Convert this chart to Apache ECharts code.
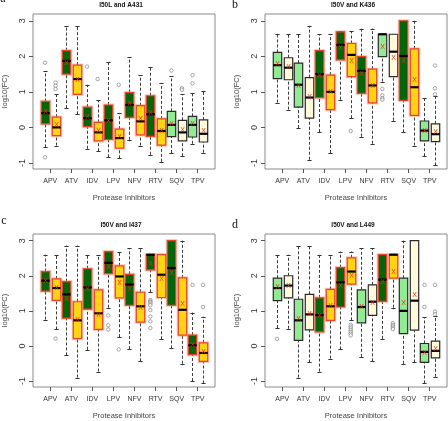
<!DOCTYPE html>
<html>
<head>
<meta charset="utf-8">
<script src="https://cdn.jsdelivr.net/npm/echarts@6/dist/echarts.min.js"></script>
<style>
html,body{margin:0;padding:0;background:#fff;}
#chart{width:448px;height:421px;}
</style>
</head>
<body>
<div id="chart"></div>
<script>
const categories = ['APV','ATV','IDV','LPV','NFV','RTV','SQV','TPV'];
const yTicks = [-1, 0, 1, 2, 3];
const panelTitles = ['I50L and A431','I50V and K436','I50V and I437','I50V and L449'];
const panelLetters = ['a','b','c','d'];

// Panel a
const aLow  = [-0.56,-0.51, 0.54,0.37, -0.60,-0.67, -0.84,-0.87, -0.35,-0.51, -0.77,-0.97, -0.72,-0.81, -0.46,-0.71];
const aQ1   = [0.10,-0.23, 1.50,0.93, 0.02,-0.38, -0.34,-0.58, 0.28,-0.21, -0.25,-0.50, -0.26,-0.38, -0.27,-0.41];
const aMed  = [0.40,0.00, 1.87,1.36, 0.26,-0.14, 0.20,-0.30, 0.63,0.17, 0.37,-0.10, 0.07,-0.14, 0.07,-0.18];
const aQ3   = [0.73,0.29, 2.16,1.75, 0.57,0.14, 0.63,-0.05, 0.98,0.61, 0.89,0.24, 0.45,0.20, 0.31,0.21];
const aHigh = [1.59,0.94, 2.86,2.86, 1.20,0.77, 1.85,0.40, 1.98,1.47, 1.69,1.24, 1.44,0.93, 0.98,1.03];
const aMean = [0.42,0.07, 1.80,1.32, 0.29,-0.09, 0.18,-0.28, 0.65,0.23, 0.40,-0.10, 0.09,-0.07, 0.09,-0.09];
const aOut  = [[1.82,-0.84],[1.26,1.17,1.08],[],[],[1.71],[1.36],[],[1.20],[],[],[],[],[1.60],[1.10,1.06],[1.47,1.24],[]];
const aKind = ['D','Y','D','Y','D','Y','D','Y','D','Y','D','Y','L','C','L','C'];

// Panel b
const bLow  = [0.70,0.50, -0.02,-0.91, -0.13,-0.72, 0.78,0.26, -0.26,-0.46, 1.29,0.19, -0.14,-0.51, -0.81,-1.07];
const bQ1   = [1.37,1.34, 0.57,0.26, 0.84,0.50, 1.90,1.43, 0.96,0.69, 1.99,1.43, 0.76,0.34, -0.38,-0.40];
const bMed  = [1.75,1.68, 1.20,0.84, 1.50,1.00, 2.32,2.04, 1.59,1.18, 2.62,2.13, 2.01,1.13, -0.09,-0.19];
const bQ3   = [2.11,1.96, 1.81,1.40, 2.16,1.47, 2.69,2.36, 1.99,1.64, 2.62,2.62, 3.00,2.21, 0.18,0.10];
const bHigh = [2.62,2.62, 2.62,2.86, 2.62,2.62, 2.71,2.71, 2.78,2.78, 2.62,2.62, 3.00,3.00, 0.84,0.87];
const bMean = [1.78,1.71, 1.17,0.84, 1.45,1.00, 2.23,1.87, 1.50,1.17, 2.27,1.96, 1.88,1.32, -0.09,-0.14];
const bOut  = [[],[],[],[],[],[],[],[-0.10],[],[],[1.08,0.90,0.82,0.78],[],[],[],[],[1.74,1.10,0.93]];
const bKind = ['L','C','L','C','D','Y','D','Y','D','Y','L','C','D','Y','L','C'];

// Panel c
const cLow  = [0.75,0.47, -0.27,-0.90, -0.11,-0.73, 1.09,0.25, -0.09,-0.44, 1.53,0.19, -0.07,-0.51, -1.00,-1.07];
const cQ1   = [1.56,1.30, 0.79,0.21, 1.05,0.47, 2.06,1.37, 1.16,0.68, 2.17,1.38, 1.16,0.31, -0.25,-0.44];
const cMed  = [1.86,1.65, 1.47,0.73, 1.67,0.93, 2.37,1.98, 1.75,1.13, 2.60,2.03, 2.22,1.03, 0.02,-0.20];
const cQ3   = [2.12,1.91, 1.83,1.26, 2.20,1.60, 2.69,2.28, 2.04,1.53, 2.60,2.60, 3.00,1.94, 0.31,0.09];
const cHigh = [2.60,2.60, 2.86,2.86, 2.60,2.60, 2.69,2.69, 2.78,2.78, 2.60,2.60, 3.00,3.00, 0.95,0.83];
const cMean = [1.86,1.65, 1.33,0.73, 1.61,0.87, 2.26,1.80, 1.61,1.09, 2.33,1.90, 2.07,1.19, 0.03,-0.17];
const cOut  = [[],[0.21],[],[],[],[],[0.87,0.59,0.47],[-0.10],[],[],[1.31,1.27,1.24,1.20,1.16,1.02,0.84,0.70,0.51],[],[],[],[1.74],[1.74,1.11]];
const cKind = ['D','Y','D','Y','D','Y','D','Y','D','Y','D','Y','D','Y','D','Y'];

// Panel d
const dLow  = [0.51,0.49, -0.90,-0.47, -0.73,-0.36, -0.10,0.73, -0.31,-0.44, 0.20,1.09, -0.51,-0.47, -1.07,-0.88];
const dQ1   = [1.29,1.37, 0.16,0.46, 0.40,0.73, 1.11,1.76, 0.66,0.87, 1.27,1.93, 0.35,0.45, -0.47,-0.34];
const dMed  = [1.65,1.72, 0.73,0.90, 0.88,1.13, 1.81,2.12, 1.11,1.26, 1.89,2.60, 1.00,1.29, -0.17,-0.14];
const dQ3   = [1.93,2.00, 1.33,1.47, 1.37,1.61, 2.23,2.51, 1.60,1.74, 2.60,2.60, 1.93,3.00, 0.07,0.14];
const dHigh = [2.60,2.60, 2.86,2.86, 2.60,2.60, 2.69,2.69, 2.78,2.78, 2.60,2.60, 3.00,3.00, 0.82,0.84];
const dMean = [1.67,1.71, 0.76,0.90, 0.86,1.13, 1.70,2.00, 1.10,1.23, 1.81,2.11, 1.23,1.46, -0.20,-0.10];
const dOut  = [[0.20],[],[],[],[],[],[],[0.60,0.55,0.50,0.45,0.40,0.35,0.30],[],[],[],[0.65,0.60,0.56,0.52,0.48],[],[],[1.74,1.11],[1.74,0.98,0.90]];
const dKind = ['L','C','L','C','D','Y','D','Y','L','C','D','Y','L','C','L','C'];

const panelData = [
  [aLow,aQ1,aMed,aQ3,aHigh,aMean,aOut,aKind],
  [bLow,bQ1,bMed,bQ3,bHigh,bMean,bOut,bKind],
  [cLow,cQ1,cMed,cQ3,cHigh,cMean,cOut,cKind],
  [dLow,dQ1,dMed,dQ3,dHigh,dMean,dOut,dKind]
];

const kindStyle = {
  D: {fill:'#086408', stroke:'#e2452c', halo:true},
  Y: {fill:'#ffd414', stroke:'#e2452c', halo:true},
  L: {fill:'#92ea92', stroke:'#2a2a2a', halo:false},
  C: {fill:'#fffadc', stroke:'#2a2a2a', halo:false}
};
const kindCodes = ['D','Y','L','C'];

const FONT = 'Liberation Sans, Arial, sans-serif';
const gridPos = [
  {left:33, top:14, width:182, height:155},
  {left:265, top:14, width:182, height:155},
  {left:33, top:234, width:182, height:156},
  {left:265, top:234, width:182, height:156}
];
const tickPos = categories.map((c,i)=>1.5+2*i);

function renderBox(params, api){
  const x = api.value(0);
  const pLow = api.coord([x, api.value(1)]);
  const pQ1 = api.coord([x, api.value(2)]);
  const pMed = api.coord([x, api.value(3)]);
  const pQ3 = api.coord([x, api.value(4)]);
  const pHigh = api.coord([x, api.value(5)]);
  const pMean = api.coord([x, api.value(6)]);
  const ks = kindStyle[kindCodes[api.value(7)]];
  const hw = api.size([0.8, 0])[0]/2;
  const cx = Math.round(pLow[0]) + 0.5;
  const children = [
    {type:'line', shape:{x1:cx,y1:pQ3[1],x2:cx,y2:pHigh[1]}, style:{stroke:'#3a3a3a',lineWidth:1,lineDash:[3,2]}},
    {type:'line', shape:{x1:cx,y1:pLow[1],x2:cx,y2:pQ1[1]}, style:{stroke:'#3a3a3a',lineWidth:1,lineDash:[3,2]}},
    {type:'line', shape:{x1:cx-hw/2,y1:Math.round(pHigh[1])+0.5,x2:cx+hw/2,y2:Math.round(pHigh[1])+0.5}, style:{stroke:'#333',lineWidth:1}},
    {type:'line', shape:{x1:cx-hw/2,y1:Math.round(pLow[1])+0.5,x2:cx+hw/2,y2:Math.round(pLow[1])+0.5}, style:{stroke:'#333',lineWidth:1}}
  ];
  if (ks.halo){
    children.push({type:'rect', shape:{x:cx-hw,y:pQ3[1],width:2*hw,height:pQ1[1]-pQ3[1]}, style:{fill:'none',stroke:'rgba(255,130,110,0.45)',lineWidth:3.2}});
  }
  children.push({type:'rect', shape:{x:cx-hw,y:pQ3[1],width:2*hw,height:pQ1[1]-pQ3[1]}, style:{fill:ks.fill,stroke:ks.stroke,lineWidth:1.2}});
  children.push({type:'line', shape:{x1:cx-hw,y1:pMed[1],x2:cx+hw,y2:pMed[1]}, style:{stroke:'#000',lineWidth:2.2}});
  children.push({type:'text', style:{text:'X', x:cx, y:pMean[1], fill:'#e8321e', font:'7px '+FONT, align:'center', verticalAlign:'middle', textAlign:'center', textVerticalAlign:'middle'}});
  return {type:'group', children};
}

const grid = [], xAxis = [], yAxis = [], series = [], graphic = [];
panelData.forEach((pd, gi)=>{
  const [low,q1,med,q3,high,mean,outs,kind] = pd;
  grid.push(Object.assign({show:true, borderColor:'#8a8a8a', borderWidth:1, backgroundColor:'transparent'}, gridPos[gi]));
  xAxis.push({
    type:'value', gridIndex:gi, min:-0.14, max:17.14,
    splitLine:{show:false},
    axisLine:{show:false, onZero:false},
    axisTick:{show:true, customValues:tickPos, length:4, lineStyle:{color:'#555'}},
    axisLabel:{show:true, customValues:tickPos, formatter:(v)=>categories[Math.round((v-1.5)/2)], fontSize:7, color:'#333', margin:9, fontFamily:FONT},
    name:'Protease Inhibitors', nameLocation:'middle', nameGap:25,
    nameTextStyle:{fontSize:7.5, color:'#444', fontFamily:FONT}
  });
  yAxis.push({
    type:'value', gridIndex:gi, min:-1.17, max:3.19,
    splitLine:{show:false},
    axisLine:{show:false, onZero:false},
    axisTick:{show:true, customValues:yTicks, length:4, lineStyle:{color:'#555'}},
    axisLabel:{show:true, customValues:yTicks, rotate:90, fontSize:9, color:'#333', margin:6, fontFamily:FONT},
    name:'log10(FC)', nameLocation:'middle', nameGap:24, nameRotate:90,
    nameTextStyle:{fontSize:7.5, color:'#444', fontFamily:FONT}
  });
  const boxData = low.map((v,i)=>[i+1, low[i], q1[i], med[i], q3[i], high[i], mean[i], kindCodes.indexOf(kind[i])]);
  series.push({
    type:'custom', xAxisIndex:gi, yAxisIndex:gi, renderItem:renderBox,
    encode:{x:0, y:[1,2,3,4,5,6]}, data:boxData, silent:true
  });
  const outData = [];
  outs.forEach((arr,i)=>arr.forEach(v=>outData.push([i+1, v])));
  series.push({
    type:'scatter', xAxisIndex:gi, yAxisIndex:gi, data:outData,
    symbol:'circle', symbolSize:3.5, silent:true,
    itemStyle:{color:'#fff', borderColor:'#777', borderWidth:0.8}, z:3
  });
  const g = gridPos[gi];
  graphic.push({type:'text', x:g.left+g.width/2 - 3, y:g.top-9, style:{text:panelTitles[gi], font:'bold 6.5px '+FONT, fill:'#111', align:'center', verticalAlign:'middle', textAlign:'center', textVerticalAlign:'middle'}});
});
graphic.push({type:'text', x:3, y:-1, style:{text:'a', font:'12px Liberation Serif, serif', fill:'#111', align:'center', verticalAlign:'middle', textAlign:'center', textVerticalAlign:'middle'}});
graphic.push({type:'text', x:235, y:5, style:{text:'b', font:'12px Liberation Serif, serif', fill:'#111', align:'center', verticalAlign:'middle', textAlign:'center', textVerticalAlign:'middle'}});
graphic.push({type:'text', x:4, y:221, style:{text:'c', font:'12px Liberation Serif, serif', fill:'#111', align:'center', verticalAlign:'middle', textAlign:'center', textVerticalAlign:'middle'}});
graphic.push({type:'text', x:235, y:225, style:{text:'d', font:'12px Liberation Serif, serif', fill:'#111', align:'center', verticalAlign:'middle', textAlign:'center', textVerticalAlign:'middle'}});

const chart = echarts.init(document.getElementById('chart'), null, {renderer:'canvas'});
chart.setOption({animation:false, backgroundColor:'#fff', grid, xAxis, yAxis, series, graphic});
</script>
</body>
</html>
